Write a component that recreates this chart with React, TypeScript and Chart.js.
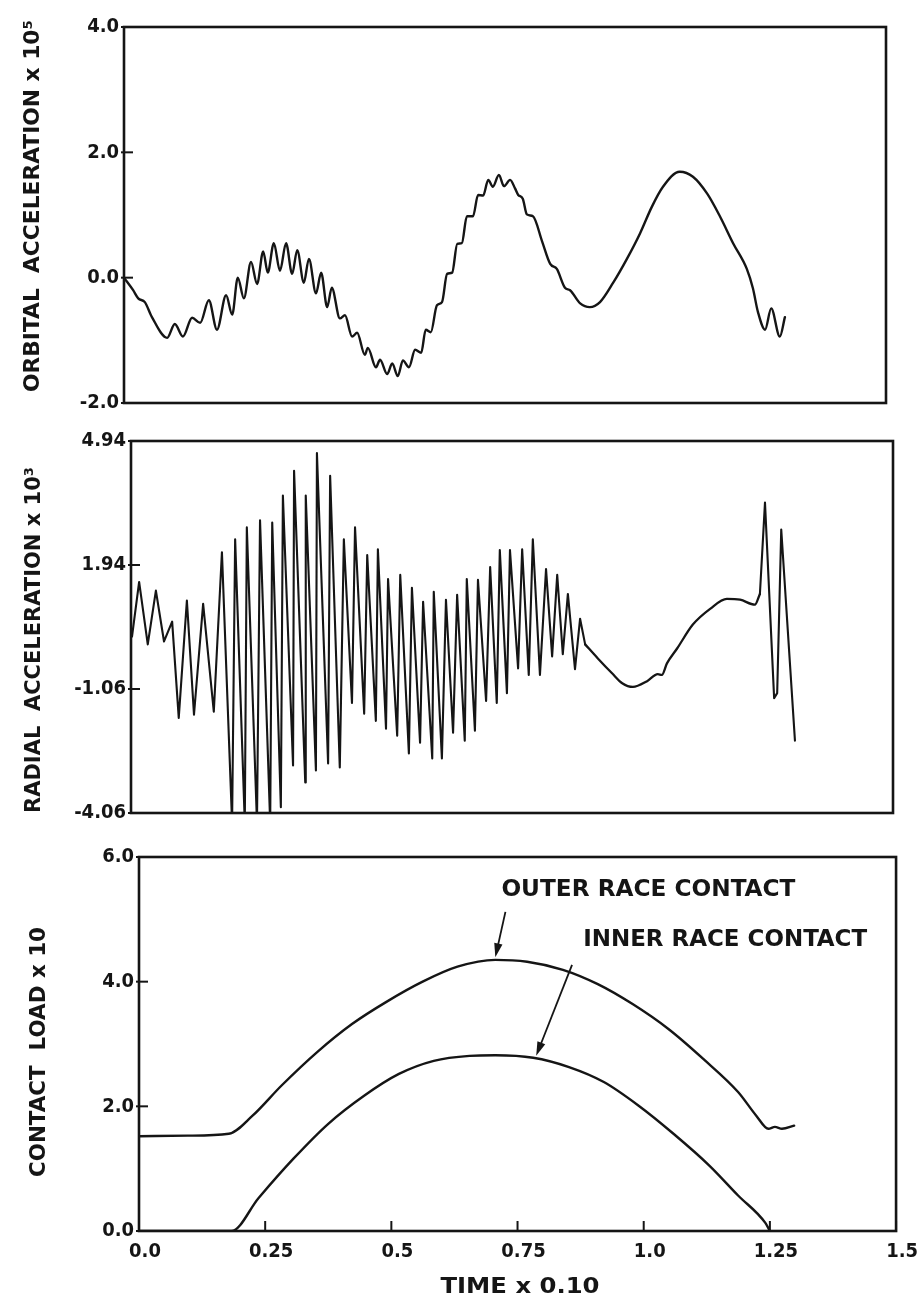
import React, { useEffect, useRef } from "react";
import { Chart, registerables } from "chart.js";

Chart.register(...registerables);

// ---------------- DATA ----------------
const TIME_TICKS = [0, 0.25, 0.5, 0.75, 1.0, 1.25, 1.5];
const TIME_TICK_LABELS = ["0.0", "0.25", "0.5", "0.75", "1.0", "1.25", "1.5"];

const ORBITAL_TICKS = [-2, 0, 2, 4];
const RADIAL_TICKS = [-4.06, -1.06, 1.94, 4.94];
const LOAD_TICKS = [0, 2, 4, 6];

const ORBITAL_TIME = [
  0, 0.018, 0.028, 0.041, 0.055, 0.085, 0.1, 0.116, 0.134, 0.15,
  0.167, 0.183, 0.201, 0.213, 0.224, 0.236, 0.25, 0.262, 0.274, 0.283,
  0.295, 0.307, 0.319, 0.331, 0.341, 0.354, 0.364, 0.378, 0.388, 0.4,
  0.409, 0.425, 0.435, 0.449, 0.459, 0.474, 0.48, 0.496, 0.504, 0.518,
  0.528, 0.539, 0.549, 0.561, 0.573, 0.585, 0.594, 0.604, 0.616, 0.626,
  0.636, 0.646, 0.656, 0.665, 0.675, 0.687, 0.697, 0.707, 0.717, 0.726,
  0.738, 0.748, 0.76, 0.77, 0.776, 0.785, 0.793, 0.805, 0.823, 0.839,
  0.852, 0.868, 0.878, 0.898, 0.917, 0.937, 0.963, 0.99, 1.016, 1.039,
  1.061, 1.094, 1.12, 1.148, 1.173, 1.199, 1.226, 1.238, 1.248, 1.262,
  1.274, 1.291, 1.301,
];
const ORBITAL_ACCEL = [
  0, -0.2, -0.33, -0.39, -0.63, -0.96, -0.74, -0.94, -0.64, -0.72,
  -0.36, -0.83, -0.28, -0.59, 0.0, -0.33, 0.25, -0.1, 0.42, 0.08,
  0.55, 0.11, 0.55, 0.06, 0.44, -0.08, 0.3, -0.25, 0.08, -0.47,
  -0.16, -0.65, -0.6, -0.94, -0.88, -1.23, -1.12, -1.43, -1.31, -1.54,
  -1.37, -1.57, -1.32, -1.43, -1.15, -1.2, -0.83, -0.87, -0.44, -0.39,
  0.06, 0.08, 0.54, 0.55, 0.98, 0.98, 1.32, 1.31, 1.56, 1.45,
  1.64, 1.46, 1.56, 1.42, 1.32, 1.26, 1.01, 0.98, 0.58, 0.22,
  0.14, -0.16, -0.2, -0.41, -0.47, -0.39, -0.08, 0.3, 0.71, 1.13,
  1.45, 1.69, 1.61, 1.34, 0.98, 0.55, 0.14, -0.17, -0.55, -0.83,
  -0.49, -0.94, -0.63,
];

const RADIAL_TIME = [
  0.002, 0.016, 0.033, 0.049, 0.065, 0.081, 0.094, 0.11, 0.124, 0.142,
  0.163, 0.179, 0.199, 0.205, 0.224, 0.228, 0.248, 0.254, 0.274, 0.278,
  0.295, 0.299, 0.319, 0.321, 0.343, 0.344, 0.364, 0.366, 0.388, 0.392,
  0.411, 0.419, 0.435, 0.441, 0.459, 0.465, 0.482, 0.486, 0.502, 0.506,
  0.524, 0.53, 0.547, 0.553, 0.569, 0.575, 0.593, 0.596, 0.612, 0.62,
  0.634, 0.642, 0.657, 0.661, 0.677, 0.683, 0.699, 0.707, 0.72, 0.726,
  0.74, 0.746, 0.762, 0.77, 0.783, 0.791, 0.805, 0.817, 0.829, 0.839,
  0.85, 0.86, 0.874, 0.884, 0.894, 0.919, 0.947, 0.967, 0.988, 1.016,
  1.037, 1.045, 1.055, 1.075, 1.106, 1.14, 1.173, 1.199, 1.228, 1.238,
  1.248, 1.266, 1.272, 1.28, 1.307,
];
const RADIAL_ACCEL = [
  0.21, 1.53, 0.02, 1.32, 0.09, 0.57, -1.76, 1.08, -1.68, 1.0,
  -1.61, 2.25, -4.3, 2.56, -4.3, 2.85, -4.3, 3.02, -4.3, 2.97,
  -3.92, 3.62, -2.91, 4.22, -3.32, 3.62, -3.03, 4.65, -2.86, 4.1,
  -2.96, 2.56, -1.4, 2.85, -1.66, 2.18, -1.83, 2.32, -2.02, 1.6,
  -2.19, 1.7, -2.62, 1.39, -2.36, 1.05, -2.74, 1.29, -2.74, 1.1,
  -2.12, 1.22, -2.31, 1.6, -2.07, 1.58, -1.35, 1.89, -1.4, 2.3,
  -1.16, 2.3, -0.56, 2.32, -0.72, 2.56, -0.72, 1.84, -0.27, 1.7,
  -0.22, 1.24, -0.58, 0.64, 0.02, -0.32, -0.68, -0.92, -1.01, -0.87,
  -0.7, -0.72, -0.44, -0.08, 0.5, 0.88, 1.12, 1.1, 0.98, 1.24,
  3.45, -1.28, -1.16, 2.8, -2.31,
];
// the stretch of the radial trace that is a smooth curve (between the oscillations and the final spikes)
const RADIAL_SMOOTH_SPAN = [0.894, 1.238];

const OUTER_TIME = [
  0, 0.097, 0.178, 0.225, 0.282, 0.353, 0.422, 0.491, 0.562, 0.631,
  0.706, 0.769, 0.84, 0.909, 0.978, 1.049, 1.118, 1.187, 1.223, 1.247,
  1.26, 1.274, 1.298,
];
const OUTER_LOAD = [
  1.52, 1.53, 1.56, 1.85, 2.33, 2.87, 3.32, 3.68, 4.0, 4.24,
  4.35, 4.32, 4.19, 3.96, 3.64, 3.24, 2.76, 2.23, 1.85, 1.64,
  1.67, 1.64, 1.69,
];

const INNER_TIME = [
  0, 0.183, 0.237, 0.306, 0.375, 0.446, 0.515, 0.584, 0.655, 0.706,
  0.781, 0.852, 0.921, 0.99, 1.059, 1.13, 1.187, 1.241, 1.25,
];
const INNER_LOAD = [
  0, 0, 0.53, 1.16, 1.72, 2.17, 2.52, 2.73, 2.81, 2.82,
  2.78, 2.63, 2.39, 2.01, 1.56, 1.05, 0.57, 0.13, 0,
];

// Annotation texts and anchors (in data units of the bottom panel)
const OUTER_LABEL = "OUTER RACE CONTACT";
const INNER_LABEL = "INNER RACE CONTACT";
const OUTER_ANCHOR = { t: 0.718, v: 5.47, tailT: 0.726, tailV: 5.12, tipT: 0.706, tipV: 4.39 };
const INNER_ANCHOR = { t: 0.88, v: 4.67, tailT: 0.858, tailV: 4.27, tipT: 0.787, tipV: 2.81 };

// ---------------- STYLE ----------------
const W = 921;
const INK = "#151515";
const COND = '"DejaVu Sans Condensed", "Liberation Sans Narrow", "DejaVu Sans", sans-serif';
const WIDE = '"DejaVu Sans", "Liberation Sans", Arial, sans-serif';

type Series = { t: number[]; v: number[]; smooth: boolean; width: number };
type Annot = {
  text: string; t: number; v: number; width: number;
  tailT: number; tailV: number; tipT: number; tipV: number;
};
type TitleSpec = { text: string; cx: number; cy: number; len: number };
type Panel = {
  top: number; height: number; left: number; right: number;
  areaTop: number; areaBottom: number;
  yMin: number; yMax: number; yTicks: number[]; yDigits: number;
  series: Series[];
  yTitle: TitleSpec;
  showX: boolean;
  xTitle?: TitleSpec;
  annots?: Annot[];
};

// split a trace into pieces by time range so each piece can have its own interpolation
function slice(t: number[], v: number[], from: number, to: number) {
  const tt: number[] = [];
  const vv: number[] = [];
  t.forEach((x, i) => {
    if (x >= from - 1e-9 && x <= to + 1e-9) {
      tt.push(x);
      vv.push(v[i]);
    }
  });
  return { t: tt, v: vv };
}

const radialOsc = slice(RADIAL_TIME, RADIAL_ACCEL, -1, RADIAL_SMOOTH_SPAN[0]);
const radialSmooth = slice(RADIAL_TIME, RADIAL_ACCEL, RADIAL_SMOOTH_SPAN[0], RADIAL_SMOOTH_SPAN[1]);
const radialSpikes = slice(RADIAL_TIME, RADIAL_ACCEL, RADIAL_SMOOTH_SPAN[1], 9);

const PANELS: Panel[] = [
  {
    top: 0, height: 420, left: 124, right: 886, areaTop: 27, areaBottom: 405,
    yMin: -2, yMax: 4, yTicks: ORBITAL_TICKS, yDigits: 1,
    series: [{ t: ORBITAL_TIME, v: ORBITAL_ACCEL, smooth: true, width: 2.4 }],
    yTitle: { text: "ORBITAL  ACCELERATION x 10\u2075", cx: 34, cy: 206, len: 372 },
    showX: false,
  },
  {
    top: 420, height: 410, left: 131, right: 893, areaTop: 21, areaBottom: 396,
    yMin: -4.06, yMax: 4.94, yTicks: RADIAL_TICKS, yDigits: 2,
    series: [
      { ...radialOsc, smooth: false, width: 2.1 },
      { ...radialSmooth, smooth: true, width: 2.3 },
      { ...radialSpikes, smooth: false, width: 2.1 },
    ],
    yTitle: { text: "RADIAL  ACCELERATION x 10\u00B3", cx: 35, cy: 220, len: 346 },
    showX: false,
  },
  {
    top: 830, height: 470, left: 139, right: 900, areaTop: 27, areaBottom: 401,
    yMin: 0, yMax: 6, yTicks: LOAD_TICKS, yDigits: 1,
    series: [
      { t: OUTER_TIME, v: OUTER_LOAD, smooth: true, width: 2.4 },
      { t: INNER_TIME, v: INNER_LOAD, smooth: true, width: 2.4 },
    ],
    yTitle: { text: "CONTACT  LOAD x 10", cx: 40, cy: 222, len: 250 },
    showX: true,
    xTitle: { text: "TIME x 0.10", cx: 520, cy: 457, len: 159 },
    annots: [
      { text: OUTER_LABEL, width: 294, ...OUTER_ANCHOR },
      { text: INNER_LABEL, width: 284, ...INNER_ANCHOR },
    ],
  },
];

function drawFitted(
  ctx: CanvasRenderingContext2D, text: string, cx: number, cy: number,
  len: number, font: string, rotate: boolean
) {
  ctx.save();
  ctx.translate(cx, cy);
  if (rotate) ctx.rotate(-Math.PI / 2);
  ctx.font = font;
  const w = ctx.measureText(text).width || 1;
  ctx.scale(len / w, 1);
  ctx.textAlign = "center";
  ctx.textBaseline = "middle";
  ctx.fillStyle = INK;
  ctx.fillText(text, 0, 0);
  ctx.restore();
}

function drawArrow(ctx: CanvasRenderingContext2D, sx: number, sy: number, tx: number, ty: number) {
  const ang = Math.atan2(ty - sy, tx - sx);
  const L = 14, H = 4.2;
  const c = Math.cos(ang), s = Math.sin(ang);
  ctx.beginPath();
  ctx.moveTo(sx, sy);
  ctx.lineTo(tx - L * 0.6 * c, ty - L * 0.6 * s);
  ctx.lineWidth = 1.8;
  ctx.stroke();
  ctx.beginPath();
  ctx.moveTo(tx, ty);
  ctx.lineTo(tx - L * c + H * s, ty - L * s - H * c);
  ctx.lineTo(tx - L * c - H * s, ty - L * s + H * c);
  ctx.closePath();
  ctx.fill();
}

function framePlugin(p: Panel) {
  return {
    id: "frame",
    afterDraw(chart: any) {
      const { ctx, chartArea: a, scales } = chart;
      ctx.save();
      ctx.strokeStyle = INK;
      ctx.fillStyle = INK;
      ctx.lineWidth = 2.6;
      ctx.strokeRect(a.left, a.top, a.right - a.left, a.bottom - a.top);
      ctx.lineWidth = 2;
      for (const tk of scales.y.ticks) {
        const y = scales.y.getPixelForValue(tk.value);
        ctx.beginPath();
        ctx.moveTo(a.left - 3, y);
        ctx.lineTo(a.left + 9, y);
        ctx.stroke();
      }
      if (p.showX) {
        for (const tk of scales.x.ticks) {
          const x = scales.x.getPixelForValue(tk.value);
          ctx.beginPath();
          ctx.moveTo(x, a.bottom + 1);
          ctx.lineTo(x, a.bottom - 10);
          ctx.stroke();
        }
      }
      drawFitted(ctx, p.yTitle.text, p.yTitle.cx, p.yTitle.cy, p.yTitle.len, `bold 21px ${WIDE}`, true);
      if (p.xTitle) {
        drawFitted(ctx, p.xTitle.text, p.xTitle.cx, p.xTitle.cy, p.xTitle.len, `bold 22px ${COND}`, false);
      }
      for (const an of p.annots || []) {
        const x = scales.x.getPixelForValue(an.t);
        const y = scales.y.getPixelForValue(an.v);
        drawFitted(ctx, an.text, x + an.width / 2, y, an.width, `bold 23px ${COND}`, false);
        drawArrow(
          ctx,
          scales.x.getPixelForValue(an.tailT), scales.y.getPixelForValue(an.tailV),
          scales.x.getPixelForValue(an.tipT), scales.y.getPixelForValue(an.tipV)
        );
      }
      ctx.restore();
    },
  };
}

function PanelChart({ p }: { p: Panel }) {
  const ref = useRef<HTMLCanvasElement | null>(null);
  useEffect(() => {
    if (!ref.current) return;
    const tickFont = { family: COND, size: 20, weight: "bold" as const };
    const xScale: any = {
      type: "linear",
      min: 0,
      max: 1.5,
      display: p.showX,
      grid: { display: false, drawTicks: false },
      border: { display: false },
      afterBuildTicks: (s: any) => {
        s.ticks = TIME_TICKS.map((v) => ({ value: v }));
      },
      ticks: {
        autoSkip: false,
        maxRotation: 0,
        minRotation: 0,
        padding: 9,
        labelOffset: 6,
        color: INK,
        font: tickFont,
        callback: (v: number) => TIME_TICK_LABELS[TIME_TICKS.indexOf(v)] ?? "",
      },
    };
    if (p.showX) {
      xScale.afterFit = (s: any) => {
        s.height = p.height - p.areaBottom;
      };
    }
    const chart = new Chart(ref.current, {
      type: "line",
      data: {
        datasets: p.series.map((s) => ({
          data: s.t.map((t, i) => ({ x: t, y: s.v[i] })),
          borderColor: INK,
          borderWidth: s.width,
          pointRadius: 0,
          fill: false,
          tension: s.smooth ? 0.4 : 0,
          cubicInterpolationMode: s.smooth ? ("monotone" as const) : ("default" as const),
          borderJoinStyle: "round" as const,
          borderCapStyle: "round" as const,
        })),
      },
      options: {
        animation: false,
        responsive: false,
        maintainAspectRatio: false,
        events: [],
        layout: {
          padding: {
            left: 0,
            right: W - p.right,
            top: p.areaTop,
            bottom: p.showX ? 0 : p.height - p.areaBottom,
          },
        },
        plugins: { legend: { display: false }, tooltip: { enabled: false }, title: { display: false } },
        scales: {
          x: xScale,
          y: {
            type: "linear",
            min: p.yMin,
            max: p.yMax,
            grid: { display: false, drawTicks: false },
            border: { display: false },
            afterBuildTicks: (s: any) => {
              s.ticks = p.yTicks.map((v) => ({ value: v }));
            },
            afterFit: (s: any) => {
              s.width = p.left;
            },
            ticks: {
              padding: 5,
              color: INK,
              font: tickFont,
              callback: (v: any) => Number(v).toFixed(p.yDigits),
            },
          },
        },
      },
      plugins: [framePlugin(p)],
    } as any);
    return () => chart.destroy();
  }, [p]);
  return (
    <canvas
      ref={ref}
      width={W}
      height={p.height}
      style={{ position: "absolute", left: 0, top: p.top, width: W, height: p.height, display: "block" }}
    />
  );
}

export default function App() {
  return (
    <div style={{ position: "absolute", left: 0, top: 0, width: W, height: 1300, background: "#fff", overflow: "hidden" }}>
      {PANELS.map((p, i) => (
        <PanelChart key={i} p={p} />
      ))}
    </div>
  );
}
